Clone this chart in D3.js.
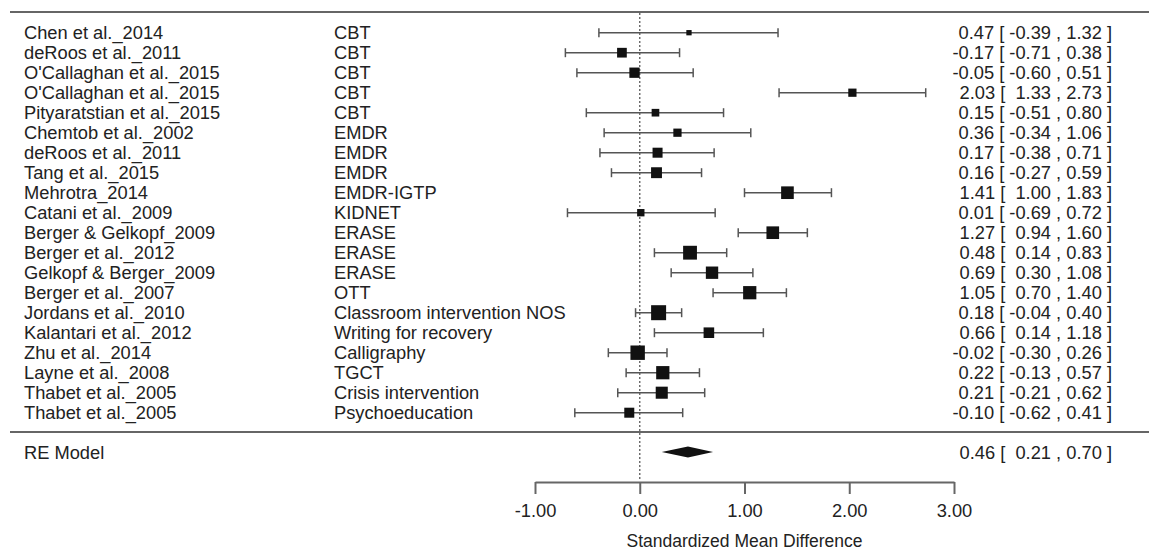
<!DOCTYPE html>
<html>
<head>
<meta charset="utf-8">
<script src="https://cdn.jsdelivr.net/npm/d3@7"></script>
<style>
  body { margin: 0; background: #fff; }
  text { font-family: "Liberation Sans", Arial, sans-serif; font-size: 18.3px; fill: #222; white-space: pre; }
</style>
</head>
<body>
<div id="chart"></div>
<script>
// study labels
const studies = [
  "Chen et al._2014", "deRoos et al._2011", "O'Callaghan et al._2015", "O'Callaghan et al._2015",
  "Pityaratstian et al._2015", "Chemtob et al._2002", "deRoos et al._2011", "Tang et al._2015",
  "Mehrotra_2014", "Catani et al._2009", "Berger & Gelkopf_2009", "Berger et al._2012",
  "Gelkopf & Berger_2009", "Berger et al._2007", "Jordans et al._2010", "Kalantari et al._2012",
  "Zhu et al._2014", "Layne et al._2008", "Thabet et al._2005", "Thabet et al._2005"
];
const interventions = [
  "CBT", "CBT", "CBT", "CBT", "CBT", "EMDR", "EMDR", "EMDR", "EMDR-IGTP", "KIDNET",
  "ERASE", "ERASE", "ERASE", "OTT", "Classroom intervention NOS", "Writing for recovery",
  "Calligraphy", "TGCT", "Crisis intervention", "Psychoeducation"
];
const estimates = [0.47, -0.17, -0.05, 2.03, 0.15, 0.36, 0.17, 0.16, 1.41, 0.01,
  1.27, 0.48, 0.69, 1.05, 0.18, 0.66, -0.02, 0.22, 0.21, -0.10];
const lower = [-0.39, -0.71, -0.60, 1.33, -0.51, -0.34, -0.38, -0.27, 1.00, -0.69,
  0.94, 0.14, 0.30, 0.70, -0.04, 0.14, -0.30, -0.13, -0.21, -0.62];
const upper = [1.32, 0.38, 0.51, 2.73, 0.80, 1.06, 0.71, 0.59, 1.83, 0.72,
  1.60, 0.83, 1.08, 1.40, 0.40, 1.18, 0.26, 0.57, 0.62, 0.41];
// approximate study weights (%)
const weights = [3.0, 4.5, 4.7, 4.0, 3.8, 4.0, 4.6, 4.9, 5.5, 3.7,
  5.5, 5.9, 5.4, 5.7, 6.3, 4.8, 6.1, 5.7, 5.3, 4.6];

// random effects summary
const reLabel = "RE Model";
const reEstimate = 0.46, reLower = 0.21, reUpper = 0.70;

const xTicks = [-1, 0, 1, 2, 3];
const xTitle = "Standardized Mean Difference";

const W = 1149, H = 553;
const svg = d3.select("#chart").append("svg")
  .attr("width", W).attr("height", H);

// scales
const x = d3.scaleLinear().domain([-1, 3]).range([535, 954]);
const y = d3.scaleLinear().domain([0, studies.length - 1]).range([32.7, 412.7]);
const boxSize = d3.scaleLinear().domain(d3.extent(weights)).range([5.3, 15]);
const yRE = 452;

// plain hyphen minus like the R output
const fmt = v => v.toFixed(2);
const pad = v => (v < 0 ? "" : " ") + fmt(v);
const annot = (e, lo, hi) => `${fmt(e)} [ ${pad(lo)} , ${fmt(hi)} ]`;

const lineColor = "#666";

// top and bottom rules
svg.append("line").attr("x1", 10).attr("x2", W).attr("y1", 12).attr("y2", 12)
  .attr("stroke", lineColor).attr("stroke-width", 2);
svg.append("line").attr("x1", 10).attr("x2", W).attr("y1", 432).attr("y2", 432)
  .attr("stroke", lineColor).attr("stroke-width", 2);

// zero line
svg.append("line").attr("x1", x(0)).attr("x2", x(0)).attr("y1", 13).attr("y2", 481)
  .attr("stroke", "#666").attr("stroke-width", 1.4).attr("stroke-dasharray", "2,2");

// rows
const idx = d3.range(studies.length);
const rows = svg.selectAll(".row").data(idx).enter().append("g").attr("class", "row");

rows.append("text").attr("x", 24).attr("y", i => y(i)).attr("dy", "0.36em").text(i => studies[i]);
rows.append("text").attr("x", 334).attr("y", i => y(i)).attr("dy", "0.36em").text(i => interventions[i]);
rows.append("text").attr("x", 1112).attr("y", i => y(i)).attr("dy", "0.36em")
  .attr("text-anchor", "end").text(i => annot(estimates[i], lower[i], upper[i]));

// CI lines and caps
rows.append("line").attr("x1", i => x(lower[i])).attr("x2", i => x(upper[i]))
  .attr("y1", i => y(i)).attr("y2", i => y(i)).attr("stroke", "#555").attr("stroke-width", 1.5);
rows.append("line").attr("x1", i => x(lower[i])).attr("x2", i => x(lower[i]))
  .attr("y1", i => y(i) - 4.5).attr("y2", i => y(i) + 4.5).attr("stroke", "#555").attr("stroke-width", 1.5);
rows.append("line").attr("x1", i => x(upper[i])).attr("x2", i => x(upper[i]))
  .attr("y1", i => y(i) - 4.5).attr("y2", i => y(i) + 4.5).attr("stroke", "#555").attr("stroke-width", 1.5);

// boxes
rows.append("rect")
  .attr("x", i => x(estimates[i]) - boxSize(weights[i]) / 2)
  .attr("y", i => y(i) - boxSize(weights[i]) / 2)
  .attr("width", i => boxSize(weights[i]))
  .attr("height", i => boxSize(weights[i]))
  .attr("fill", "#111");

// RE model row
svg.append("text").attr("x", 24).attr("y", yRE).attr("dy", "0.36em").text(reLabel);
svg.append("text").attr("x", 1112).attr("y", yRE).attr("dy", "0.36em")
  .attr("text-anchor", "end").text(annot(reEstimate, reLower, reUpper));
svg.append("polygon")
  .attr("points", [[x(reLower), yRE], [x(reEstimate), yRE - 5.5], [x(reUpper), yRE], [x(reEstimate), yRE + 5.5]].join(" "))
  .attr("fill", "#111");

// x axis
const axis = d3.axisBottom(x).tickValues(xTicks).tickFormat(fmt).tickSize(12).tickPadding(10).tickSizeOuter(0);
const ax = svg.append("g").attr("transform", "translate(0,482)").call(axis);
ax.select(".domain").attr("stroke", lineColor).attr("stroke-width", 2);
ax.selectAll(".tick line").attr("stroke", lineColor).attr("stroke-width", 2);
ax.selectAll(".tick text").style("font-size", "18.3px").attr("fill", "#222")
  .style("font-family", "'Liberation Sans', Arial, sans-serif");

svg.append("text").attr("x", (x(-1) + x(3)) / 2).attr("y", 541).attr("dy", "0.36em")
  .attr("text-anchor", "middle").style("font-size", "17.5px").text(xTitle);
</script>
</body>
</html>
